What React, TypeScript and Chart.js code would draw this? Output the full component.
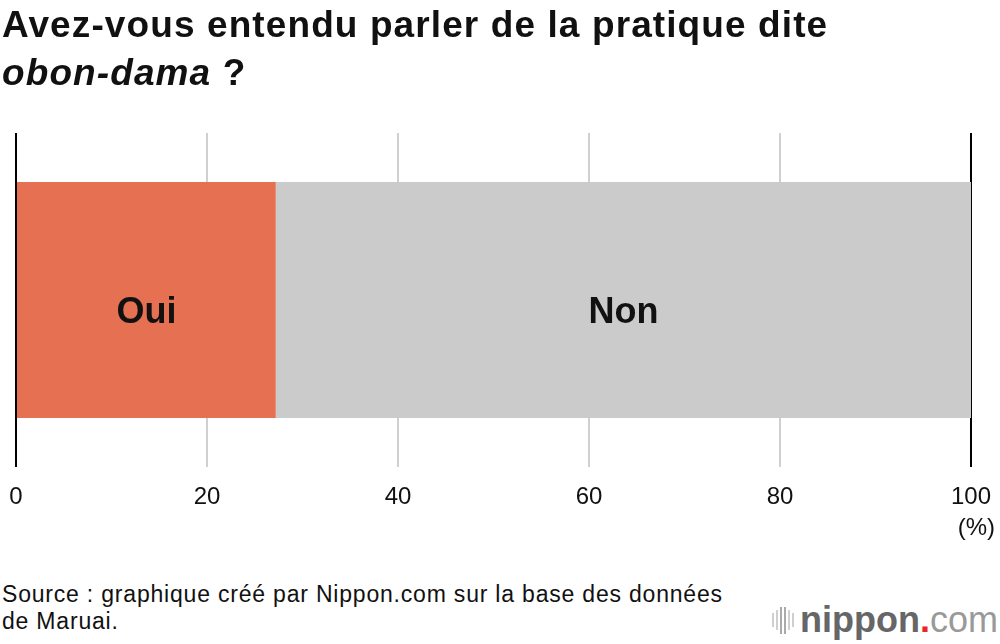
import React, { useEffect, useRef } from "react";
import { Chart, registerables } from "chart.js";

Chart.register(...registerables);

const categories = ["Réponse"];
const seriesNames = ["Oui", "Non"];
const ouiValues = [27.2];
const nonValues = [72.8];
const seriesColors = ["#E67052", "#CBCBCB"];
const tickValues = [0, 20, 40, 60, 80, 100];

const FONT = "'Liberation Sans', Arial, Helvetica, sans-serif";

const barLabelPlugin = {
  id: "barLabels",
  afterDatasetsDraw(chart: any) {
    const ctx = chart.ctx;
    ctx.save();
    ctx.font = `bold 36px ${FONT}`;
    ctx.fillStyle = "#111";
    ctx.textAlign = "center";
    ctx.textBaseline = "middle";
    chart.data.datasets.forEach((ds: any, i: number) => {
      const meta = chart.getDatasetMeta(i);
      meta.data.forEach((el: any) => {
        const x = (el.x + el.base) / 2;
        ctx.fillText(ds.label, x, el.y + 13);
      });
    });
    ctx.restore();
  },
};

function ChartView() {
  const ref = useRef<HTMLCanvasElement>(null);
  useEffect(() => {
    if (!ref.current) return;
    const chart = new Chart(ref.current, {
      type: "bar",
      data: {
        labels: categories,
        datasets: [
          { label: seriesNames[0], data: ouiValues, backgroundColor: seriesColors[0], borderWidth: 0, barPercentage: 0.707, categoryPercentage: 1 },
          { label: seriesNames[1], data: nonValues, backgroundColor: seriesColors[1], borderWidth: 0, barPercentage: 0.707, categoryPercentage: 1 },
        ],
      },
      options: {
        indexAxis: "y",
        animation: false,
        responsive: false,
        maintainAspectRatio: false,
        layout: { padding: { top: 133, left: 16, right: 29, bottom: 0 } },
        plugins: { legend: { display: false }, tooltip: { enabled: false }, title: { display: false } },
        scales: {
          x: {
            stacked: true,
            min: 0,
            max: 100,
            afterBuildTicks(scale: any) {
              scale.ticks = tickValues.map((v) => ({ value: v }));
            },
            afterFit(scale: any) {
              scale.paddingLeft = 0;
              scale.paddingRight = 0;
              scale.height = 53;
            },
            grid: {
              drawTicks: false,
              color: (c: any) => (c.tick && (c.tick.value === 0 || c.tick.value === 100) ? "#000" : "#D0D0D0"),
              lineWidth: 2,
            },
            border: { display: false },
            ticks: {
              padding: 16,
              color: "#111",
              font: { family: FONT, size: 24 },
            },
          },
          y: { stacked: true, display: false },
        },
      },
      plugins: [barLabelPlugin],
    });
    return () => chart.destroy();
  }, []);
  return <canvas ref={ref} width={1000} height={520} style={{ position: "absolute", left: 0, top: 0, width: 1000, height: 520 }} />;
}

export default function App() {
  return (
    <div style={{ position: "absolute", left: 0, top: 0, width: 1000, height: 644, background: "#fff", overflow: "hidden", fontFamily: FONT, color: "#111" }}>
      <ChartView />
      <div style={{ position: "absolute", left: 2, top: 1, fontSize: 37, fontWeight: "bold", lineHeight: "48px", letterSpacing: 1.1, whiteSpace: "nowrap" }}>
        Avez-vous entendu parler de la pratique dite
        <br />
        <i>obon-dama</i> ?
      </div>
      <div style={{ position: "absolute", right: 5, top: 513, fontSize: 24 }}>(%)</div>
      <div style={{ position: "absolute", left: 2, top: 581, fontSize: 23, lineHeight: "27px", letterSpacing: 0.8, whiteSpace: "nowrap" }}>
        Source : graphique créé par Nippon.com sur la base des données
        <br />
        de Maruai.
      </div>
      <div style={{ position: "absolute", left: 772, top: 602, display: "flex", alignItems: "center", height: 36, lineHeight: "36px" }}>
        <div style={{ display: "flex", alignItems: "center", gap: 2, marginRight: 6 }}>
          {[14, 20, 27, 27, 20, 14].map((h, i) => (
            <div key={i} style={{ width: 2, height: h, background: i === 2 || i === 3 ? "#aaa" : "#cfcfcf" }} />
          ))}
        </div>
        <span style={{ fontSize: 36, fontWeight: "bold", color: "#666" }}>nippon</span>
        <span style={{ fontSize: 36, fontWeight: "bold", color: "#e8272a" }}>.</span>
        <span style={{ fontSize: 36, color: "#999" }}>com</span>
      </div>
    </div>
  );
}
